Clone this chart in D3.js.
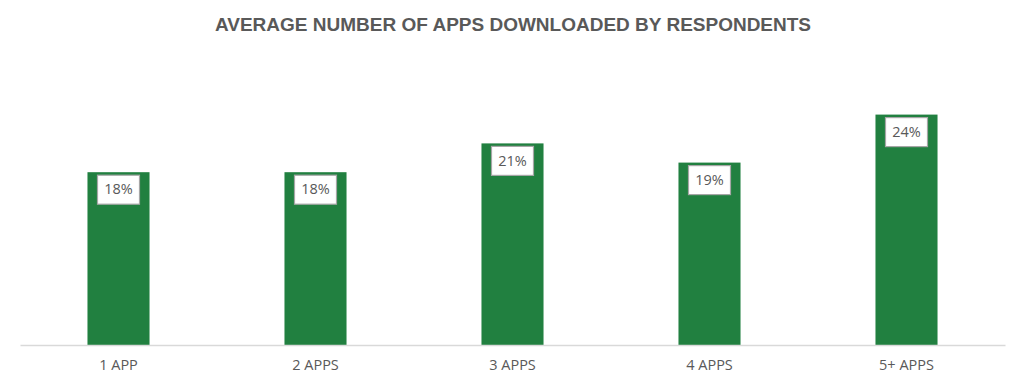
<!DOCTYPE html>
<html>
<head>
<meta charset="utf-8">
<script src="https://cdn.jsdelivr.net/npm/d3@7"></script>
<style>
  body { margin: 0; background: #fff; }
  svg { display: block; }
</style>
</head>
<body>
<div id="chart"></div>
<script>
const width = 1024;
const height = 389;

const categories = ["1 APP", "2 APPS", "3 APPS", "4 APPS", "5+ APPS"];
const values = [18, 18, 21, 19, 24];

const margin = { top: 40, right: 19, bottom: 44, left: 20 };
const baseline = height - margin.bottom;

const svg = d3.select("#chart")
  .append("svg")
  .attr("width", width)
  .attr("height", height);

svg.append("text")
  .attr("x", width / 2 + 1)
  .attr("y", 31)
  .attr("text-anchor", "middle")
  .attr("font-family", "Liberation Sans, Arial, sans-serif")
  .attr("font-weight", "bold")
  .attr("font-size", "19px")
  .attr("fill", "#595959")
  .text("AVERAGE NUMBER OF APPS DOWNLOADED BY RESPONDENTS");

const x = d3.scaleBand()
  .domain(categories)
  .range([margin.left, width - margin.right])
  .paddingInner(0.685)
  .paddingOuter(0.3425);

// about 9.6 px per percent
const y = d3.scaleLinear()
  .domain([0, 31.77])
  .range([baseline, margin.top]);

svg.selectAll("rect.bar")
  .data(values)
  .enter()
  .append("rect")
  .attr("class", "bar")
  .attr("x", (d, i) => x(categories[i]))
  .attr("y", d => y(d))
  .attr("width", x.bandwidth())
  .attr("height", d => baseline - y(d))
  .attr("fill", "#218040");

// axis
const axis = svg.append("g")
  .attr("transform", `translate(0,${baseline})`)
  .call(d3.axisBottom(x).tickSize(0).tickPadding(15));
axis.select(".domain").attr("stroke", "#d9d9d9").attr("stroke-width", 1.5);
axis.selectAll("text")
  .attr("font-family", "Open Sans, Noto Sans, sans-serif")
  .attr("font-size", "14.5px")
  .attr("fill", "#595959");

// labels
const labels = svg.selectAll("g.lbl")
  .data(values)
  .enter()
  .append("g")
  .attr("class", "lbl")
  .attr("transform", (d, i) => `translate(${x(categories[i]) + x.bandwidth() / 2},${y(d) + 17})`);

labels.append("rect")
  .attr("x", -21)
  .attr("y", -14)
  .attr("width", 42)
  .attr("height", 29)
  .attr("fill", "#fff")
  .attr("stroke", "#a6a6a6")
  .attr("stroke-width", 1.2);

labels.append("text")
  .attr("text-anchor", "middle")
  .attr("dy", "0.36em")
  .attr("font-family", "Open Sans, Noto Sans, sans-serif")
  .attr("font-size", "14.5px")
  .attr("fill", "#595959")
  .text(d => d + "%");
</script>
</body>
</html>
